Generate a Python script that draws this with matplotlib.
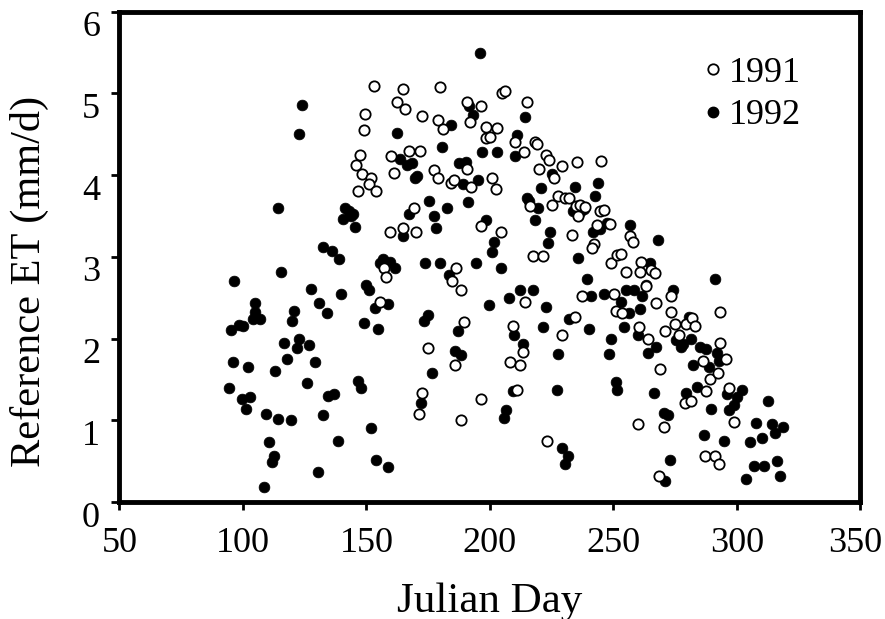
import matplotlib
matplotlib.use("Agg")
import matplotlib.pyplot as plt
import matplotlib.transforms as mtransforms
from matplotlib.lines import Line2D

# 1992 (filled circles): Julian day, reference ET (mm/d)
day_1992 = [94.5, 95.2, 96.3, 95.9, 98.4, 100.2, 99.5, 101.4, 102, 103, 104.8, 105, 104, 106.9,
            108.5, 109.2, 110.6, 111.9, 112.6, 113, 114.2, 114.2, 115.6, 116.5, 117.9, 119.3, 120,
            120.6, 122, 122.9, 122.9, 124, 126, 126.9, 127.5, 129.1, 130.5, 130.9, 132.3, 132.6,
            134, 134.6, 136, 136.7, 138.3, 138.8, 139.7, 140.6, 141.5, 142.9, 143.8, 144.7, 145.4,
            146.8, 148, 149.1, 149.8, 150.9, 152, 153.4, 153.7, 154.8, 155.7, 156.9, 158.7, 158.9,
            159.4, 161.7, 162.2, 163.5, 164.9, 166.3, 167.2, 168.3, 169.7, 170.6, 172, 173.2, 173.6,
            174.8, 175.5, 176.4, 177.3, 178.2, 179.8, 180.5, 182.6, 183.5, 184.2, 185.8, 186.9,
            187.4, 188.5, 189.2, 190.4, 191, 191.7, 193.3, 194.3, 195.4, 195.9, 197, 198.4, 199.8,
            200.7, 201.8, 203, 204.4, 205.7, 206.7, 207.6, 209.2, 209.9, 210.3, 211, 212.4, 213.5,
            214.2, 214.9, 216, 217.4, 218.3, 219.5, 220.6, 221.6, 222.7, 223.4, 224.5, 225.2, 227.1,
            227.8, 229.4, 230.3, 231.7, 232.1, 233.7, 234.4, 235.6, 236.7, 238.3, 239.2, 240.1,
            240.8, 241.9, 242.4, 243.6, 244.7, 246.1, 247.5, 248.4, 248.9, 250.9, 251.6, 253, 254.4,
            255, 256.2, 256.7, 258.3, 259.9, 260.8, 261.7, 263.1, 264.2, 264.9, 266.3, 267.4, 267.9,
            270.4, 271.1, 272.2, 272.9, 274, 275.2, 277.3, 278.4, 279.6, 280.5, 281.4, 282.3, 283.7,
            285.1, 286.7, 287.4, 288.8, 289.7, 291.1, 292, 292.9, 294.7, 295.9, 297, 298.9, 300.2,
            302, 303.9, 305.5, 307.1, 307.8, 310.1, 311.2, 312.6, 314.4, 315.4, 316.3, 317.7, 318.6]
et_1992 = [1.39, 2.11, 2.71, 1.71, 2.17, 2.15, 1.26, 1.14, 1.65, 1.29, 2.44, 2.33, 2.24, 2.24,
           0.18, 1.08, 0.74, 0.49, 0.56, 1.60, 1.02, 3.60, 2.82, 1.94, 1.75, 1.00, 2.22,
           2.34, 1.88, 1.99, 4.51, 4.86, 1.46, 1.92, 2.61, 1.71, 0.37, 2.43, 1.07, 3.12,
           2.31, 1.30, 3.07, 1.32, 0.75, 2.97, 2.55, 3.46, 3.60, 3.56, 3.50, 3.53, 3.36,
           1.48, 1.40, 2.19, 2.65, 2.59, 0.91, 2.38, 0.51, 2.12, 2.93, 2.97, 0.43, 2.42,
           2.94, 2.87, 4.52, 4.20, 3.26, 4.13, 3.52, 4.15, 3.96, 3.99, 1.21, 2.21, 2.92,
           2.29, 3.69, 1.58, 3.50, 3.35, 2.93, 4.35, 3.60, 2.78, 4.62, 1.85, 2.09,
           4.15, 1.80, 3.89, 4.16, 3.67, 4.85, 4.74, 2.92, 3.94, 5.49, 4.28, 3.45, 2.41,
           3.06, 3.18, 4.28, 2.86, 1.03, 1.12, 2.50, 1.36, 2.05, 4.23, 4.49, 2.60, 1.93,
           4.71, 3.72, 3.68, 2.60, 3.45, 3.60, 3.84, 2.14, 2.39, 3.17, 3.30, 4.01, 1.37,
           1.81, 0.66, 0.46, 0.56, 2.24, 3.56, 3.86, 2.99, 3.55, 3.58, 2.73, 2.12,
           2.52, 3.30, 3.74, 3.90, 3.34, 2.55, 3.41, 1.81, 1.99, 1.47, 1.37, 2.45, 2.14,
           2.60, 2.31, 3.39, 2.60, 2.04, 2.36, 2.52, 2.65, 1.82, 2.93, 1.34, 1.90, 3.21,
           1.09, 0.26, 1.06, 0.51, 2.60, 1.98, 1.90, 1.93, 1.34, 2.26, 2.00, 1.68, 1.41,
           1.90, 0.82, 1.87, 1.65, 1.14, 2.73, 1.82, 1.72, 0.75, 1.32, 1.12, 1.19, 1.29,
           1.37, 0.28, 0.73, 0.44, 0.97, 0.78, 0.44, 1.24, 0.95, 0.85, 0.50, 0.32, 0.92]

# 1991 (open circles)
day_1991 = [153, 149.3, 148.9, 147.5, 145.6, 148.4, 152, 151.1, 146.6, 153.9, 164.9, 162.2, 165.8,
            159.9, 161, 167.2, 171.8, 172.7, 179.1, 180, 180.9, 177.4, 179.2, 184.2, 185.3, 169.4,
            169.9, 164.7, 159.7, 157, 157.9, 155.7, 172.5, 171.3, 175, 186.1, 184.7, 188.5, 189.4,
            185.8, 188.5, 196.6, 190.6, 196.6, 192, 198.4, 203, 198.4, 200.2, 190.6, 200.7, 192.5,
            202.5, 196.4, 204.4, 204.8, 206.2, 214.9, 210.3, 218.1, 219, 214, 219.9, 222.7, 224.1,
            225.9, 229.1, 235.1, 245.2, 227.8, 225.2, 230.5, 232.1, 216.3, 234.9, 236.7, 238.6,
            235.6, 244.7, 246.3, 248.6, 243.4, 242.3, 241.4, 233.3, 217.6, 221.7, 248.9, 251.6,
            253, 255, 256.7, 258, 261.2, 260.8, 265.4, 266.7, 263.1, 267.2, 237.4, 250.2, 251.1,
            253.4, 260.3, 264.2, 273.2, 273.2, 275, 279.4, 281.7, 283.1, 276.6, 271.1, 268.8,
            293.3, 293.3, 295.6, 286.3, 289, 292.3, 287.4, 279.1, 281.4, 297, 298.9, 259.8, 270.6,
            268.4, 287.2, 291.1, 292.9, 223.2, 210.8, 208, 212.2, 213.5, 209.2, 214.2, 229.1, 234.4]
et_1991 = [5.09, 4.75, 4.55, 4.25, 4.13, 4.01, 3.97, 3.89, 3.81, 3.81, 5.05, 4.90, 4.81,
           4.23, 4.03, 4.30, 4.29, 4.72, 4.68, 5.08, 4.56, 4.06, 3.96, 3.90, 3.94, 3.60,
           3.30, 3.35, 3.30, 2.87, 2.75, 2.45, 1.34, 1.08, 1.88, 2.86, 2.70, 2.59, 2.20,
           1.68, 1.00, 1.26, 4.90, 4.85, 4.65, 4.59, 4.58, 4.46, 4.47, 4.08, 3.96, 3.86,
           3.83, 3.38, 3.31, 5.01, 5.03, 4.90, 4.41, 4.40, 4.38, 4.28, 4.08, 4.25, 4.18,
           3.97, 4.11, 4.16, 4.17, 3.74, 3.63, 3.72, 3.72, 3.62, 3.62, 3.64, 3.61,
           3.50, 3.56, 3.57, 3.40, 3.39, 3.16, 3.11, 3.27, 3.01, 3.01, 2.93, 3.02,
           3.04, 2.82, 3.25, 3.18, 2.94, 2.82, 2.84, 2.80, 2.64, 2.44, 2.52, 2.55, 2.34,
           2.31, 2.14, 2.00, 2.52, 2.32, 2.18, 2.18, 2.25, 2.15, 2.05, 2.09, 1.63,
           2.33, 1.94, 1.75, 1.72, 1.51, 1.58, 1.36, 1.21, 1.24, 1.40, 0.98, 0.95, 0.92,
           0.32, 0.56, 0.56, 0.46, 0.75, 1.37, 1.71, 1.68, 1.84, 2.15, 2.45, 2.05, 2.26]

x_ticks = [50, 100, 150, 200, 250, 300, 350]
y_ticks = [0, 1, 2, 3, 4, 5, 6]
series_labels = ["1991", "1992"]

plt.rcParams['font.family'] = ['Liberation Serif', 'DejaVu Serif']

fig = plt.figure(figsize=(8.85, 6.19), dpi=100)
ax = fig.add_axes([0.135, 0.189, 0.837, 0.792])

ax.scatter(day_1991, et_1991, s=55, facecolors='white', edgecolors='black', linewidths=1.3, zorder=3)
ax.scatter(day_1992, et_1992, s=60, facecolors='black', edgecolors='black', linewidths=0.5, zorder=2)

ax.set_xlim(50, 350)
ax.set_ylim(0, 6)
ax.set_xticks(x_ticks)
ax.set_yticks(y_ticks)
ax.tick_params(axis='both', direction='out', length=6, width=2, labelsize=26)
ax.tick_params(axis='x', pad=12)
ax.tick_params(axis='y', pad=8)
for sp in ax.spines.values():
    sp.set_linewidth(3.5)

# y tick labels sit slightly below their ticks in the reference
offset = mtransforms.ScaledTranslation(0, -0.12, fig.dpi_scale_trans)
for lab in ax.get_yticklabels():
    lab.set_transform(lab.get_transform() + offset)
# keep the last x tick label inside the canvas
xlabs = ax.get_xticklabels()
xlabs[-1].set_transform(xlabs[-1].get_transform() +
                        mtransforms.ScaledTranslation(-0.05, 0, fig.dpi_scale_trans))

ax.set_xlabel("Julian Day", fontsize=31, labelpad=16)
ax.set_ylabel("Reference ET (mm/d)", fontsize=30.5)
ax.yaxis.set_label_coords(-0.095, 0.45)

handles = [Line2D([], [], marker='o', linestyle='none', markersize=7.5, markerfacecolor='white',
                  markeredgecolor='black', markeredgewidth=1.3),
           Line2D([], [], marker='o', linestyle='none', markersize=7.5, markerfacecolor='black',
                  markeredgecolor='black')]
ax.legend(handles, series_labels, loc='upper left', bbox_to_anchor=(0.755, 0.945), frameon=False,
          fontsize=26, handletextpad=0.0, labelspacing=0.25, handlelength=0.9, borderpad=0)

fig.savefig("out.png", dpi=100)
